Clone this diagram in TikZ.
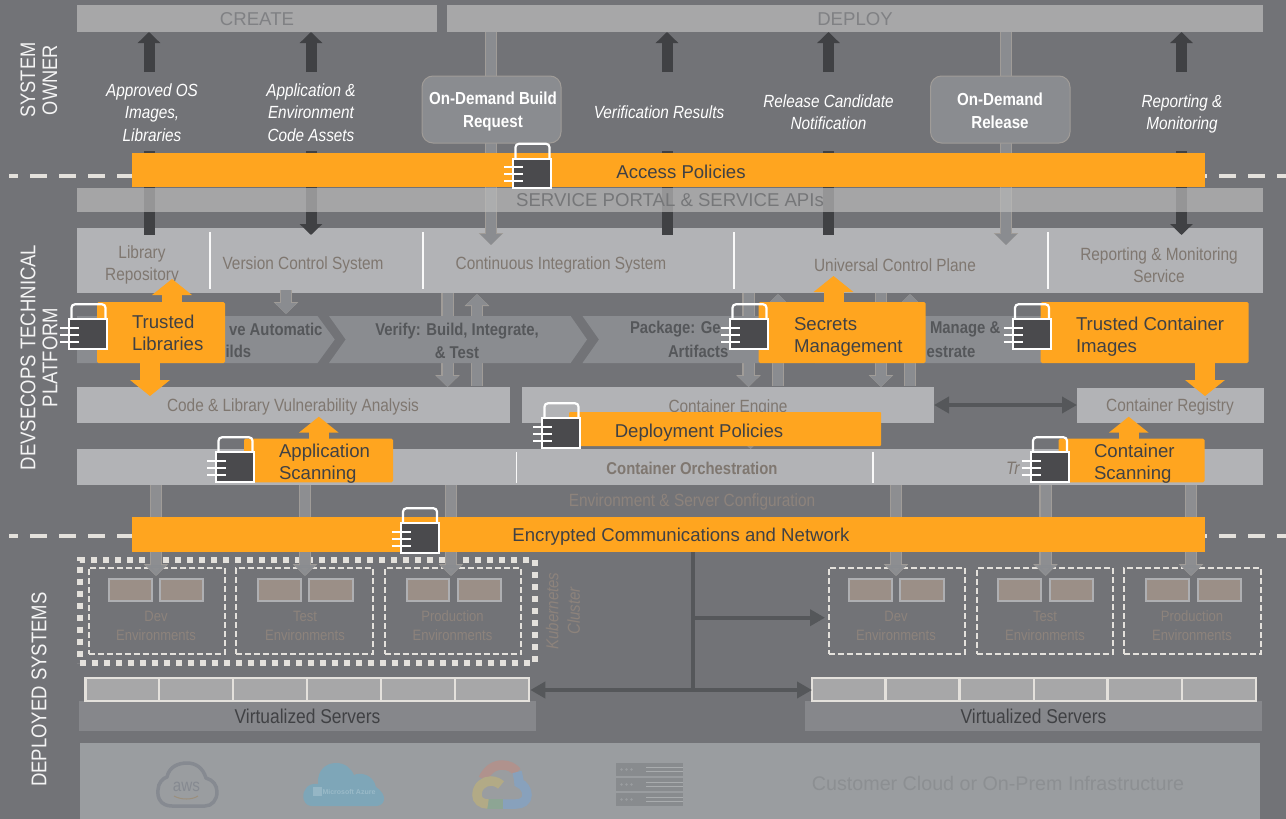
\documentclass[tikz,border=0pt]{standalone}
\usepackage{fontspec}
\setmainfont{Liberation Sans}
\newfontfamily\nar[FakeStretch=0.87]{Liberation Sans}
\usetikzlibrary{arrows.meta}
\definecolor{bgc}{HTML}{727377}
\definecolor{barc}{HTML}{A7A7A8}
\definecolor{toolc}{HTML}{B2B3B6}
\definecolor{chevc}{HTML}{8A8C90}
\definecolor{orangec}{HTML}{FFA51F}
\definecolor{darkc}{HTML}{404144}
\definecolor{linec}{HTML}{55575A}
\definecolor{taupe}{HTML}{7F7770}
\definecolor{fainttaupe}{HTML}{8D837C}
\definecolor{creamc}{HTML}{E4E1DC}
\definecolor{barTxt}{HTML}{808184}
\definecolor{ghostc}{HTML}{8A8C90}
\definecolor{ghostb}{HTML}{A09C98}
\definecolor{infc}{HTML}{9A9DA0}
\definecolor{inftxt}{HTML}{8C8F92}
\definecolor{logoc}{HTML}{868A91}
\definecolor{envbox}{HTML}{9B8F87}
\definecolor{srvc}{HTML}{86878B}
\definecolor{azurec}{HTML}{7EA6B8}
\definecolor{gred}{HTML}{B0928D}
\definecolor{gblue}{HTML}{88A1BC}
\definecolor{gyellow}{HTML}{B2AA86}
\definecolor{ggreen}{HTML}{8DA594}
\definecolor{rackc}{HTML}{888B8E}
\tikzset{
  box/.style={inner sep=0pt,outer sep=0pt,rectangle},
  barbox/.style={box,fill=barc},
  toolbox/.style={box,fill=toolc},
  orangebox/.style={box,fill=orangec,rounded corners=1.5pt},
  demandbox/.style={box,fill=chevc,draw=ghostb,line width=1pt,rounded corners=11pt},
  envdash/.style={draw=creamc,line width=2pt,dash pattern=on 6pt off 3pt,box},
  minibox/.style={box,fill=envbox,draw=toolc!105!white,line width=2pt},
  srvcell/.style={box,fill=barc,draw=creamc,line width=2.5pt},
  lockbody/.style={box,fill=darkc!95!white,draw=white,line width=2pt},
  divider/.style={draw=white!92!toolc,line width=1.2pt},
  darkarrow/.style={line width=11pt,draw=darkc,-{Triangle[length=11pt,width=22pt,fill=darkc]}},
  darkshaft/.style={line width=11pt,draw=darkc},
  ghostarrow/.style={preaction={draw=ghostb,line width=12.2pt,-{Triangle[length=12pt,width=24pt,fill=ghostb]}},
     line width=10pt,draw=ghostc,-{Triangle[length=11pt,width=21pt,fill=ghostc]}},
  ghostover/.style={ghostarrow,opacity=.82},
  orangearrow/.style={line width=20pt,draw=orangec,-{Triangle[length=16pt,width=39pt,fill=orangec]}},
  linkarrow/.style={line width=4pt,draw=linec,-{Triangle[length=15pt,width=16pt,fill=linec]}},
  linkboth/.style={line width=4pt,draw=linec,{Triangle[length=15pt,width=16pt,fill=linec]}-{Triangle[length=15pt,width=16pt,fill=linec]}},
  linkplain/.style={line width=4pt,draw=linec},
  zone/.style={draw=creamc,line width=4pt,dash pattern=on 16.5pt off 12.5pt},
  txt/.style={inner sep=0pt,outer sep=0pt,align=center},
  barlabel/.style={txt,text=barTxt,font=\fontsize{18.6}{22}\selectfont},
  toollabel/.style={txt,text=taupe,font=\nar\fontsize{17.7}{22}\selectfont},
  flowlabel/.style={txt,text=white,font=\nar\itshape\fontsize{17.6}{22.3}\selectfont},
  demandlabel/.style={txt,text=white,font=\nar\bfseries\fontsize{17.4}{23}\selectfont},
  chevlabel/.style={txt,text=linec,font=\nar\bfseries\fontsize{17.1}{23}\selectfont},
  orangelabel/.style={txt,align=left,text=darkc,font=\fontsize{18.6}{22}\selectfont},
  sidelabel/.style={txt,text=white!92!bgc,rotate=90,font=\nar\fontsize{21}{22}\selectfont},
  envlabel/.style={txt,text=fainttaupe,font=\nar\fontsize{15}{19}\selectfont},
  serverlabel/.style={txt,text=darkc,font=\nar\fontsize{20}{24}\selectfont},
}
% name, x1, y1, x2, y2, style, text
\newcommand\bx[7]{%
  \pgfmathsetmacro\bxw{#4-#2}\pgfmathsetmacro\bxh{#5-#3}%
  \pgfmathsetmacro\bxx{(#2+#4)/2}\pgfmathsetmacro\bxy{(#3+#5)/2}%
  \node[#6,minimum width=\bxw pt,minimum height=\bxh pt] (#1) at (\bxx,\bxy) {#7};}
% vertical connector: name, x, y1, y2, style
\newcommand\vc[5]{\coordinate (#1a) at (#2,#3);\coordinate (#1b) at (#2,#4);\draw[#5] (#1a) -- (#1b);}
% lock: name, left x, top y
\newcommand\lockicon[3]{%
  \pgfmathsetmacro\lkcx{#2+19.5}\pgfmathsetmacro\lkcy{#3+15}%
  \node[lockbody,minimum width=38pt,minimum height=29.5pt] (#1) at (\lkcx,\lkcy) {};
  \draw[white,line width=2.2pt,rounded corners=3.5pt] ([xshift=2.5pt]#1.north west) -- ++(0,-15) -- ++(34,0) -- ([xshift=-1.5pt]#1.north east);
  \foreach \d in {8.5,15.5,22.5}{\draw[white,line width=2.2pt] ([shift={(-9,\d)}]#1.north west) -- ([shift={(10,\d)}]#1.north west);}
}
\begin{document}
\begin{tikzpicture}[x=1pt,y=-1pt]
\useasboundingbox (0,0) rectangle (1286,819);
\fill[bgc] (0,0) rectangle (1286,819);
% zone lines
\coordinate (z1a) at (9,175.5);\coordinate (z1b) at (1286,175.5);
\coordinate (z2a) at (9,536);\coordinate (z2b) at (1286,536);
\draw[zone,dash phase=8pt] (z1a) -- (z1b);
\draw[zone,dash phase=8pt] (z2a) -- (z2b);
% top bars
\bx{createbar}{77}{5}{437}{32}{barbox}{}
\bx{deploybar}{447}{5}{1263}{32}{barbox}{}
\node[barlabel] (create) at (257,19.5) {CREATE};
\node[barlabel] (deploy) at (855,19.5) {DEPLOY};
% tool bar
\bx{tools}{77}{228}{1263}{293}{toolbox}{}
\foreach \x in {210,423,734,1048}{\draw[divider] (\x,232) -- (\x,289);}
\node[toollabel] (t1) at (142,265) {Library\\Repository};
\node[toollabel] (t2) at (303,265) {Version Control System};
\node[toollabel] (t3) at (561,265) {Continuous Integration System};
\node[toollabel] (t4) at (895,265) {Universal Control Plane};
\node[toollabel] (t5) at (1159,265) {Reporting \& Monitoring\\Service};
% small flow arrows
\vc{s1}{286}{290}{314}{ghostarrow}
\vc{s2}{447.5}{293}{387}{ghostarrow}
\vc{s3}{477}{386}{294}{ghostarrow}
\vc{s4}{748.5}{293}{387}{ghostarrow}
\vc{s5}{778}{386}{294}{ghostarrow}
\vc{s6}{881}{293}{387}{ghostarrow}
\vc{s7}{910}{386}{294}{ghostarrow}
% chevrons
\fill[chevc] (77,316) -- (317.5,316) -- (334.7,339.5) -- (317.5,363) -- (77,363) -- cycle;
\fill[chevc] (329,316) -- (570.6,316) -- (587,339.5) -- (570.6,363) -- (329,363) -- (345.7,339.5) -- cycle;
\fill[chevc] (582.5,316) -- (800,316) -- (816,339.5) -- (800,363) -- (582.5,363) -- (599,339.5) -- cycle;
\fill[chevc] (815,316) -- (1045,316) -- (1045,363) -- (815,363) -- (831,339.5) -- cycle;
\node[chevlabel,anchor=east] (c1a) at (322.5,329.5) {ve Automatic};
\node[chevlabel,anchor=west] (c1b) at (225.5,351.5) {ilds};
\node[chevlabel] (c2) at (457,340.5) {Verify: Build, Integrate,\\\& Test};
\node[chevlabel,anchor=west] (c3a) at (630,329.5) {Package: Ge};
\node[chevlabel,anchor=west] (c3b) at (668,351.5) {Artifacts};
\node[chevlabel,anchor=west] (c4a) at (930,329.5) {Manage \&};
\node[chevlabel,anchor=west] (c4b) at (926.5,352) {estrate};
% analysis row
\bx{codebar}{77}{387}{509.5}{423}{toolbox}{}
\node[toollabel] (code) at (293,407) {Code \& Library Vulnerability Analysis};
\bx{engine}{522}{387}{934}{423}{toolbox}{}
\node[toollabel] (englabel) at (728,408) {Container Engine};
\bx{registry}{1077}{388}{1264}{423}{toolbox}{}
\node[toollabel] (registryl) at (1170,407) {Container Registry};
\draw[linkboth] (engine.east) -- (engine.east -| registry.west);
% orchestration row
\bx{orch}{77}{449}{1263}{485}{toolbox}{}
\foreach \x in {516.5,873}{\draw[divider] (\x,452) -- (\x,483);}
\node[toollabel,font=\nar\bfseries\fontsize{17.1}{22}\selectfont] (orchl) at (692,468) {Container Orchestration};
\node[toollabel,anchor=west,font=\nar\itshape\fontsize{18}{22}\selectfont] (trl) at (1006,468) {Tr};
\node[toollabel,text=fainttaupe] (envcfg) at (692,502) {Environment \& Server Configuration};
\vc{s8}{750.5}{425}{449}{ghostarrow}
% top flows
\vc{u1}{149}{72}{32}{darkarrow}
\vc{u2}{311}{72}{32}{darkarrow}
\vc{u3}{667}{72}{32}{darkarrow}
\vc{u4}{828.5}{72}{32}{darkarrow}
\vc{u5}{1181.5}{72}{32}{darkarrow}
\vc{l1}{149}{151}{235}{darkshaft}
\vc{l2}{311}{151}{235}{darkarrow}
\vc{l3}{667}{151}{235}{darkshaft}
\vc{l4}{828.5}{151}{235}{darkshaft}
\vc{l5}{1181.5}{151}{235}{darkarrow}
\vc{g1}{491}{32}{245}{ghostarrow}
\vc{g2}{1006}{32}{245}{ghostarrow}
% service bar (translucent)
\definecolor{svcfill}{HTML}{BCBCBC}
\bx{service}{77}{188}{1263}{212}{box,fill=svcfill,fill opacity=.69}{}
\node[barlabel,text=barTxt!92!black] (servicel) at (670,200.5) {SERVICE PORTAL \& SERVICE APIs};
% flow labels
\node[flowlabel] (f1) at (152,112.5) {Approved OS\\Images,\\Libraries};
\node[flowlabel] (f2) at (311,112.5) {Application \&\\Environment\\Code Assets};
\node[flowlabel] (f3) at (659,112) {Verification Results};
\node[flowlabel] (f4) at (828.5,112) {Release Candidate\\Notification};
\node[flowlabel] (f5) at (1182,114) {Reporting \&\\Monitoring};
\bx{demand1}{422}{76}{561}{143}{demandbox}{}
\bx{demand2}{930.5}{76}{1070}{143}{demandbox}{}
\node[demandlabel] (demand1l) at (493,111) {On-Demand Build\\Request};
\node[demandlabel] (demand2l) at (1000,110.5) {On-Demand\\Release};
% side labels
\node[sidelabel] (side1) at (39,80) {SYSTEM\\OWNER};
\node[sidelabel,font=\nar\fontsize{21.3}{22}\selectfont] (side2) at (39,357.5) {DEVSECOPS TECHNICAL\\PLATFORM};
\node[sidelabel,font=\nar\fontsize{21.3}{22}\selectfont] (side3) at (39,689.5) {DEPLOYED SYSTEMS};
% kubernetes cluster
\bx{kube}{79.5}{559.5}{534.5}{662.5}{box,draw=creamc,line width=6pt,dash pattern=on 6pt off 6pt}{}
\node[envlabel,rotate=90,font=\nar\itshape\fontsize{17.3}{21.5}\selectfont] (kubel) at (563,611) {Kubernetes\\Cluster};
% environments
\bx{e1}{88.6}{568}{225}{654}{envdash}{}
\bx{e2}{236}{568}{373}{654}{envdash}{}
\bx{e3}{384.5}{568}{521}{654}{envdash}{}
\bx{e4}{828.7}{568}{965}{654}{envdash}{}
\bx{e5}{976.6}{568}{1112.6}{654}{envdash}{}
\bx{e6}{1124}{568}{1261}{654}{envdash}{}
\foreach \n/\a/\b in {m1/109/152,m2/160.4/203,m3/258/301,m4/309.4/352.6,m5/406.5/449,m6/458/501,m7/848.5/891.8,m8/900.4/943.7,m9/997.6/1041,m10/1049.6/1093,m11/1146/1189.4,m12/1198/1241}{\bx{\n}{\a}{579}{\b}{601}{minibox}{}}
\node[envlabel] (el1) at (156,625.5) {Dev\\Environments};
\node[envlabel] (el2) at (305,625.5) {Test\\Environments};
\node[envlabel] (el3) at (452.5,625.5) {Production\\Environments};
\node[envlabel] (el4) at (896,625.5) {Dev\\Environments};
\node[envlabel] (el5) at (1045,625.5) {Test\\Environments};
\node[envlabel] (el6) at (1192,625.5) {Production\\Environments};
% down arrows to environments, over the frames
\foreach \n/\x in {d1/156,d2/305,d3/451,d4/896,d5/1045.5,d6/1191}{\vc{\n}{\x}{485}{576}{ghostover}}
% servers
\bx{vs1}{79}{701}{536}{731}{box,fill=srvc,serverlabel}{Virtualized Servers}
\bx{vs2}{805}{701}{1262}{731}{box,fill=srvc,serverlabel}{Virtualized Servers}
\bx{a1}{85.5}{678.2}{159}{701}{srvcell}{}
\bx{a2}{159}{678.2}{233}{701}{srvcell}{}
\bx{a3}{233}{678.2}{307}{701}{srvcell}{}
\bx{a4}{307}{678.2}{381}{701}{srvcell}{}
\bx{a5}{381}{678.2}{455}{701}{srvcell}{}
\bx{a6}{455}{678.2}{528.8}{701}{srvcell}{}
\bx{b1}{812}{678.2}{885.6}{701}{srvcell}{}
\bx{b2}{885.6}{678.2}{959.7}{701}{srvcell}{}
\bx{b3}{959.7}{678.2}{1034}{701}{srvcell}{}
\bx{b4}{1034}{678.2}{1107.7}{701}{srvcell}{}
\bx{b5}{1107.7}{678.2}{1182}{701}{srvcell}{}
\bx{b6}{1182}{678.2}{1256}{701}{srvcell}{}
% network links
\coordinate (hub) at (692.7,690);
\coordinate (hub2) at (692.7,617.7);
\coordinate (hubtop) at (692.7,552);
\coordinate (env4in) at (825,617.7);
\draw[linkplain] (hubtop) -- (hub);
\draw[linkarrow] (hub2) -- (env4in);
\draw[linkboth] (a6.east |- hub) ++(1.5,0) -- (b1.west |- hub);
% infrastructure
\bx{infra}{80}{743}{1260}{819}{box,fill=infc}{}
\node[txt,text=inftxt,font=\fontsize{19.7}{22}\selectfont] (infral) at (998,783) {Customer Cloud or On-Prem Infrastructure};
% aws logo
\draw[logoc,line width=3.5pt,line join=round] (172,806) .. controls (161,806) and (157,798) .. (158,790) .. controls (158,783) and (163,778) .. (167,777) .. controls (169,767) and (178,763) .. (187,763) .. controls (196,763) and (203,768) .. (206,778) .. controls (213,780) and (217,785) .. (217,792) .. controls (217,800) and (212,806) .. (205,806) -- cycle;
\node[txt,text=logoc,font=\nar\fontsize{17.5}{18}\selectfont] (awsl) at (186.5,786.5) {aws};
\draw[color=orangec!18!logoc,line width=1pt] (174,796) .. controls (181,800) and (192,800) .. (198,796);
% azure logo
\fill[azurec] (312,806) .. controls (304,806) and (301,796) .. (305,790) .. controls (307,785) and (313,783) .. (318,784) .. controls (317,770) and (326,763) .. (336,763) .. controls (345,763) and (351,768) .. (354,775) .. controls (360,772) and (373,774) .. (376,787) .. controls (381,790) and (385,796) .. (384,800) .. controls (383,804) and (380,806) .. (376,806) -- cycle;
\fill[white!18!azurec] (313,787) rectangle (322,796);
\node[txt,text=white!22!azurec,font=\bfseries\fontsize{7}{8}\selectfont] (azl) at (349,791.5) {Microsoft Azure};
% google cloud logo
\draw[line width=9.5pt,gred] (483,779) .. controls (487,770) and (494,765) .. (502,765) .. controls (509,765) and (514,768) .. (517,772);
\draw[line width=9.5pt,gblue] (517,772) .. controls (518,776) and (519,780) .. (519,783) .. controls (524,785) and (527,790) .. (527,795) .. controls (527,801) and (522,804) .. (516,804) -- (503,804);
\draw[line width=9.5pt,ggreen] (503,804) -- (486,804);
\draw[line width=9.5pt,gyellow] (488,804) .. controls (481,804) and (477,800) .. (477,795) .. controls (477,786) and (484,781) .. (491,781) .. controls (495,781) and (499,783) .. (501,785);
% rack logo
\foreach \y in {763,778,793}{
  \fill[rackc] (615.5,\y) rectangle (682.5,\y+13);
  \draw[color=infc!85!white,line width=.8pt] (646,\y+4.5) -- (682.5,\y+4.5) (646,\y+8.5) -- (682.5,\y+8.5);
  \foreach \dx in {6,11,16}{\fill[color=infc] (615.5+\dx,\y+6.5) circle (1.3);}
}
% orange overlays
\bx{access}{132}{153}{1205}{187}{box,fill=orangec}{}
\node[orangelabel] (accessl) at (681,171.5) {Access Policies};
\bx{encrypted}{132}{517}{1205}{552}{box,fill=orangec}{}
\node[orangelabel] (encl) at (681,537) {Encrypted Communications and Network};
\vc{o1}{172}{305}{279}{orangearrow}
\vc{o2}{150}{360}{396}{orangearrow}
\bx{trustlib}{97}{302}{225}{363}{orangebox}{}
\node[orangelabel,anchor=west] (trustlibl) at (132,333) {Trusted\\Libraries};
\vc{o3}{833.5}{305}{276}{orangearrow}
\bx{secrets}{758.7}{302}{925.5}{363}{orangebox}{}
\node[orangelabel,anchor=west] (secretsl) at (794,336.5) {Secrets\\Management};
\vc{o4}{1205}{360}{396}{orangearrow}
\bx{trustimg}{1040.5}{302}{1248.6}{363}{orangebox}{}
\node[orangelabel,anchor=west] (trustimgl) at (1076,336.5) {Trusted Container\\Images};
\vc{o5}{318.8}{442}{416.7}{orangearrow}
\bx{appscan}{244}{438.7}{393}{482.3}{orangebox}{}
\node[orangelabel,anchor=west] (appscanl) at (279,464) {Application\\Scanning};
\vc{o6}{1128.7}{442}{416.7}{orangearrow}
\bx{contscan}{1058.6}{438.7}{1204.5}{482.3}{orangebox}{}
\node[orangelabel,anchor=west] (contscanl) at (1094,464) {Container\\Scanning};
\bx{deploypol}{569}{412}{881}{446}{box,fill=orangec,rounded corners=1pt}{}
\node[orangelabel] (deployl) at (699,433) {Deployment Policies};
% locks
\lockicon{lk1}{512.5}{158.5}
\lockicon{lk2}{68.5}{319}
\lockicon{lk3}{215.5}{452}
\lockicon{lk4}{541.5}{418}
\lockicon{lk5}{400}{523}
\lockicon{lk6}{729.5}{319}
\lockicon{lk7}{1012}{319}
\lockicon{lk8}{1030}{452}
\end{tikzpicture}
\end{document}
